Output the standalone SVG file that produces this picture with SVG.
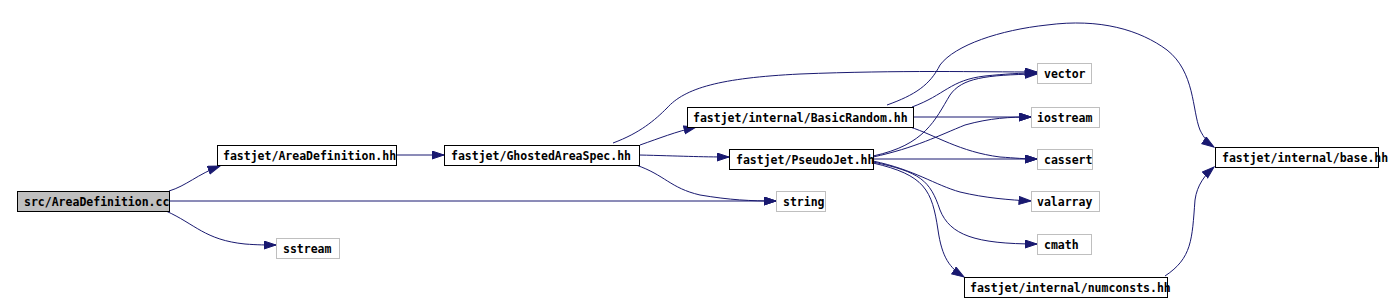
<svg xmlns="http://www.w3.org/2000/svg" width="1393" height="302" viewBox="0 0 1393 302">
<style>
.n rect{fill:#ffffff;stroke:#000000;stroke-width:1}
.n.sys rect{stroke:#bfbfbf}
.n.src rect{fill:#bfbfbf}
.n text{font-family:"DejaVu Sans Mono","Liberation Mono",monospace;font-weight:bold;font-size:11.5px;fill:#000000}
#edges path{fill:none;stroke:#191970;stroke-width:1;marker-end:url(#a)}
</style>
<defs>
<marker id="a" markerWidth="14" markerHeight="10" refX="12.5" refY="4.5" orient="auto" markerUnits="userSpaceOnUse">
<path d="M0.5,0.5 L12.5,4.5 L0.5,8.5 z" fill="#191970" stroke="#191970" stroke-width="1"/>
</marker>
</defs>
<rect width="1393" height="302" fill="#ffffff"/>
<g id="edges">
<path d="M169,191 C186,186 198,174 220,166"/>
<path d="M169,201 L776,201"/>
<path d="M166,211 C195,224 205,240 245,244 C258,245 266,245 276,245"/>
<path d="M396,155 L444,155"/>
<path d="M640,145 C660,138 675,132 696,127"/>
<path d="M639,155 C680,156 700,157 729,157"/>
<path d="M636,165 C665,175 670,188 700,195 C730,200 750,201 776,201"/>
<path d="M613,143 C640,133 655,120 667,108 C685,88 720,78 800,74 C900,70 980,72 1037,72"/>
<path d="M912,107 C945,95 950,80 985,76 C1005,74 1020,73 1037,73"/>
<path d="M887,105 C915,95 930,85 940,65 C955,45 1000,30 1047,25 C1100,18 1140,30 1167,50 C1195,72 1192,110 1200,130 C1204,138 1208,143 1214,147"/>
<path d="M913,117 L1031,117"/>
<path d="M910,127 C935,135 960,152 1000,157 C1015,158 1025,159 1037,159"/>
<path d="M873,156 C925,145 935,120 950,95 C962,78 985,75 1037,74"/>
<path d="M873,157 C915,148 940,135 965,125 C990,118 1010,117 1031,117"/>
<path d="M873,159 L1037,159"/>
<path d="M873,161 C915,170 935,185 960,192 C985,198 1010,200 1031,201"/>
<path d="M873,162 C920,172 930,180 940,210 C950,235 975,244 1037,244"/>
<path d="M873,163 C925,175 932,190 938,230 C942,258 950,268 964,277"/>
<path d="M1165,276 C1192,258 1192,240 1195,200 C1197,185 1205,175 1214,167"/>
</g>
<g id="node0" class="n src"><rect x="17.5" y="191.5" width="152" height="20"/><text x="24" y="205.5">src/AreaDefinition.cc</text></g>
<g id="node1" class="n"><rect x="217.5" y="145.5" width="179" height="20"/><text x="223" y="159.5">fastjet/AreaDefinition.hh</text></g>
<g id="node2" class="n"><rect x="444.5" y="145.5" width="195" height="20"/><text x="451" y="159.5">fastjet/GhostedAreaSpec.hh</text></g>
<g id="node3" class="n"><rect x="687.5" y="107.5" width="226" height="20"/><text x="693" y="121.5">fastjet/internal/BasicRandom.hh</text></g>
<g id="node4" class="n"><rect x="729.5" y="149.5" width="144" height="20"/><text x="736" y="163.5">fastjet/PseudoJet.hh</text></g>
<g id="node5" class="n sys"><rect x="776.5" y="191.5" width="49" height="20"/><text x="783" y="205.5">string</text></g>
<g id="node6" class="n sys"><rect x="276.5" y="238.5" width="63" height="20"/><text x="283" y="252.5">sstream</text></g>
<g id="node7" class="n sys"><rect x="1037.5" y="63.5" width="54" height="20"/><text x="1044" y="77.5">vector</text></g>
<g id="node8" class="n sys"><rect x="1031.5" y="107.5" width="68" height="20"/><text x="1037" y="121.5">iostream</text></g>
<g id="node9" class="n sys"><rect x="1037.5" y="149.5" width="55" height="20"/><text x="1044" y="163.5">cassert</text></g>
<g id="node10" class="n sys"><rect x="1031.5" y="191.5" width="68" height="20"/><text x="1037" y="205.5">valarray</text></g>
<g id="node11" class="n sys"><rect x="1037.5" y="234.5" width="54" height="20"/><text x="1044" y="248.5">cmath</text></g>
<g id="node12" class="n"><rect x="964.5" y="277.5" width="203" height="20"/><text x="970" y="291.5">fastjet/internal/numconsts.hh</text></g>
<g id="node13" class="n"><rect x="1215.5" y="147.5" width="163" height="20"/><text x="1222" y="161.5">fastjet/internal/base.hh</text></g>
</svg>
